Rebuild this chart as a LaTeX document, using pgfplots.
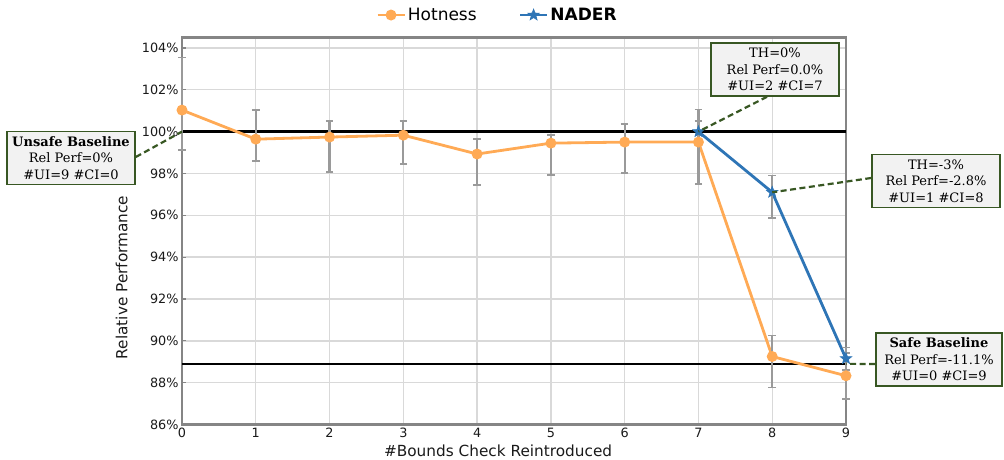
\documentclass[border=0pt]{standalone}
\usepackage{pgfplots}
\pgfplotsset{compat=1.18}
\usepackage{pgfplotstable}
\usepackage{fontspec}
\setmainfont{DejaVu Sans}
\newfontfamily\annofont{DejaVu Serif}
\definecolor{hot}{HTML}{FFAA55}
\definecolor{nader}{HTML}{2E75B6}
\definecolor{ebar}{HTML}{9A9A9A}
\definecolor{anno}{HTML}{385723}
\definecolor{annofill}{HTML}{F2F2F2}
\definecolor{gridc}{HTML}{D9D9D9}
\definecolor{axisc}{HTML}{858585}
\definecolor{txt}{HTML}{1A1A1A}

% filled five-pointed star
\pgfdeclareplotmark{fstar}{%
  \pgfpathmoveto{\pgfpointpolar{90}{\pgfplotmarksize}}%
  \pgfpathlineto{\pgfpointpolar{126}{0.42\pgfplotmarksize}}%
  \pgfpathlineto{\pgfpointpolar{162}{\pgfplotmarksize}}%
  \pgfpathlineto{\pgfpointpolar{198}{0.42\pgfplotmarksize}}%
  \pgfpathlineto{\pgfpointpolar{234}{\pgfplotmarksize}}%
  \pgfpathlineto{\pgfpointpolar{270}{0.42\pgfplotmarksize}}%
  \pgfpathlineto{\pgfpointpolar{306}{\pgfplotmarksize}}%
  \pgfpathlineto{\pgfpointpolar{342}{0.42\pgfplotmarksize}}%
  \pgfpathlineto{\pgfpointpolar{18}{\pgfplotmarksize}}%
  \pgfpathlineto{\pgfpointpolar{54}{0.42\pgfplotmarksize}}%
  \pgfpathclose
  \pgfusepathqfillstroke}

% Hotness: mean and error bar (plus / minus)
\pgfplotstableread{
x y ep em
0 101.03 2.51 1.91
1 99.64 1.39 1.04
2 99.74 0.76 1.67
3 99.83 0.67 1.38
4 98.93 0.71 1.48
5 99.45 0.38 1.53
6 99.50 0.86 1.48
7 99.50 1.00 2.00
8 89.25 1.00 1.48
9 88.33 1.10 1.10
}\hotness

% NADER
\pgfplotstableread{
x y ep em
7 100.00 1.06 0.60
8 97.10 0.80 1.24
9 89.15 0.53 0.55
}\nader

\begin{document}
\begin{tikzpicture}
\useasboundingbox (-182bp,-35.5bp) rectangle (822bp,424.5bp);
\begin{axis}[
  at={(0,0)}, anchor=south west,
  scale only axis, width=664bp, height=387bp,
  xmin=0, xmax=9, ymin=86, ymax=104.5,
  xtick={0,...,9}, ytick={86,88,...,104},
  grid=major,
  major grid style={draw=gridc, line width=1.4bp},
  axis line style={draw=axisc, line width=2.2bp},
  ytick pos=left, tick align=inside,
  major tick length=4bp,
  ytick style={draw=axisc, line width=1.2bp},
  xtick style={draw=none},
  tick label style={font=\fontsize{12.8bp}{15bp}\selectfont, text=txt},
  /pgf/number format/assume math mode=true,
  yticklabel={\pgfmathprintnumber{\tick}\%},
  label style={font=\fontsize{15.3bp}{18bp}\selectfont, text=txt},
  xlabel={\#Bounds Check Reintroduced},
  ylabel={Relative Performance},
  xlabel style={at={(axis description cs:0.476,-0.068)}, anchor=center},
  ylabel style={at={(axis description cs:-0.091,0.380)}, anchor=center},
  legend style={at={(axis description cs:0.475,1.058)}, anchor=center,
    draw=none, fill=none, legend columns=2,
    font=\fontsize{17bp}{20bp}\selectfont,
    /tikz/every even column/.append style={column sep=40bp}},
  legend image code/.code={\draw[mark repeat=2,mark phase=2]
    plot coordinates {(0bp,0bp) (13.5bp,0bp) (27bp,0bp)};},
  clip=false,
]
\addplot[black, line width=2.6bp, forget plot] coordinates {(0,100) (9,100)};
\addplot[black, line width=2.6bp, forget plot] coordinates {(0,88.9) (9,88.9)};

\addplot[hot, line width=2.8bp, mark=*, mark size=4bp,
  mark options={solid, fill=hot, draw=hot},
  error bars/.cd, y dir=both, y explicit,
  error bar style={ebar, line width=2.2bp},
  error mark options={rotate=90, ebar, mark size=3.8bp, line width=1.8bp}]
  table[x=x, y=y, y error plus=ep, y error minus=em]{\hotness};
\addlegendentry{Hotness}

\addplot[nader, line width=2.8bp, mark=fstar, mark size=6bp,
  mark options={solid, draw=nader, fill=nader, line width=0.6bp},
  error bars/.cd, y dir=both, y explicit,
  error bar style={ebar, line width=2.2bp},
  error mark options={rotate=90, ebar, mark size=3.8bp, line width=1.8bp}]
  table[x=x, y=y, y error plus=ep, y error minus=em]{\nader};
\addlegendentry{\textbf{NADER}}

\coordinate (u0) at (axis cs:0,100);
\coordinate (n7) at (axis cs:7,100);
\coordinate (n8) at (axis cs:8,97.1);
\coordinate (s9) at (axis cs:9,88.9);
\end{axis}

\begin{scope}[every node/.style={draw=anno, line width=1.6bp, fill=annofill,
    align=center, text=black, font=\annofont\fontsize{13bp}{16.5bp}\selectfont,
    minimum width=128bp, minimum height=53bp, inner sep=2bp}]
\node (ub) at (-111bp,266.5bp) {\textbf{Unsafe Baseline}\\Rel Perf=0\%\\\#UI=9 \#CI=0};
\node (t0) at (593bp,355bp) {TH=0\%\\Rel Perf=0.0\%\\\#UI=2 \#CI=7};
\node (t3) at (754bp,243.5bp) {TH=-3\%\\Rel Perf=-2.8\%\\\#UI=1 \#CI=8};
\node[minimum width=126bp] (sb) at (757bp,65bp) {\textbf{Safe Baseline}\\Rel Perf=-11.1\%\\\#UI=0 \#CI=9};
\end{scope}

\begin{scope}[anno, line width=2.2bp, dash pattern=on 6bp off 3.5bp]
\draw ([yshift=1bp]ub.east) -- (u0);
\draw ([xshift=-8bp]t0.south) -- (n7);
\draw ([yshift=3bp]t3.west) -- (n8);
\draw ([yshift=-4.5bp]sb.west) -- (s9);
\end{scope}
\end{tikzpicture}
\end{document}
